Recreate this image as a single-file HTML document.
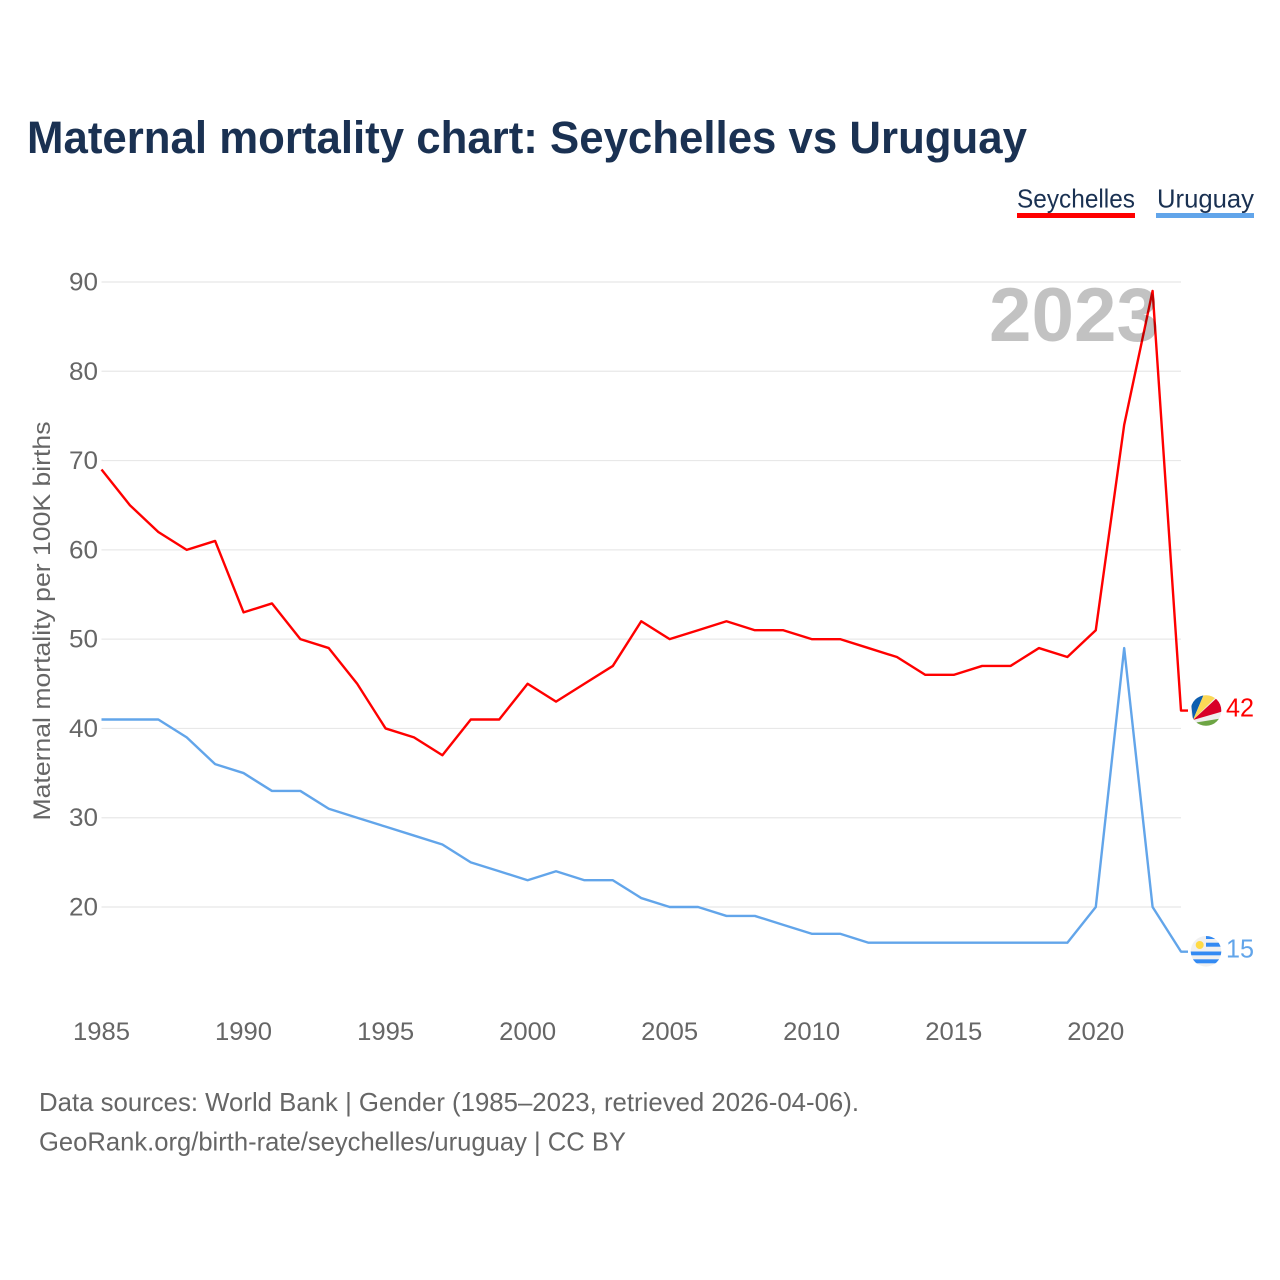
<!DOCTYPE html>
<html lang="en">
<head>
<meta charset="utf-8">
<title>Maternal mortality chart: Seychelles vs Uruguay</title>
<style>
html,body{margin:0;padding:0;background:#fff}
svg{display:block}
text{font-family:"Liberation Sans",sans-serif}
</style>
</head>
<body>
<svg id="chart" xmlns="http://www.w3.org/2000/svg" width="1280" height="1280" viewBox="0 0 1280 1280">
  <rect width="1280" height="1280" fill="#fff"/>
  <text x="27" y="153" font-size="45" font-weight="700" fill="#1a3152" textLength="1000" lengthAdjust="spacingAndGlyphs">Maternal mortality chart: Seychelles vs Uruguay</text>
  <g id="grid"></g>
  <g id="yticks"></g>
  <g id="xticks"></g>
  <text transform="translate(50,621) rotate(-90)" text-anchor="middle" font-size="24" fill="#666" textLength="399" lengthAdjust="spacingAndGlyphs">Maternal mortality per 100K births</text>
  <g id="series"></g>
  <text x="1159" y="341" text-anchor="end" font-size="76" font-weight="700" fill="#000" fill-opacity="0.24" textLength="170" lengthAdjust="spacingAndGlyphs">2023</text>

  <g>
    <text x="1017" y="207.5" font-size="26" fill="#1a3152" textLength="118" lengthAdjust="spacingAndGlyphs">Seychelles</text>
    <rect x="1017" y="213" width="118" height="5" fill="#ff0000"/>
  </g>
  <g>
    <text x="1157" y="207.5" font-size="26" fill="#1a3152" textLength="97" lengthAdjust="spacingAndGlyphs">Uruguay</text>
    <rect x="1156" y="213" width="98" height="5" fill="#62a5ea"/>
  </g>

  <defs>
    <clipPath id="flag-clip-sc"><circle cx="1206" cy="710.5" r="15.3"/></clipPath>
    <clipPath id="flag-clip-uy"><circle cx="1206" cy="951.3" r="15.3"/></clipPath>
  </defs>
  <g clip-path="url(#flag-clip-sc)">
    <rect x="1190" y="694" width="32" height="34" fill="#eeeeee"/>
    <polygon points="1193,720 1190,694 1204,694" fill="#0d5eaf"/>
    <polygon points="1193,720 1204,694 1219,694" fill="#fcd856"/>
    <polygon points="1193,720 1219,696 1224,706 1224,711" fill="#d80027"/>
    <polygon points="1193,723 1224,718 1224,728 1190,728" fill="#6da544"/>
  </g>
  <g clip-path="url(#flag-clip-uy)">
    <rect x="1190" y="935" width="32" height="33" fill="#f0f0f0"/>
    <rect x="1206" y="935" width="16" height="4" fill="#338af3"/>
    <rect x="1206" y="942.7" width="16" height="4" fill="#338af3"/>
    <rect x="1190" y="951.5" width="32" height="3.8" fill="#338af3"/>
    <rect x="1190" y="959.3" width="32" height="4" fill="#338af3"/>
    <circle cx="1199.7" cy="945" r="4" fill="#ffda44"/>
  </g>
  <text x="1226" y="716.5" font-size="26" fill="#ff0000" textLength="28" lengthAdjust="spacingAndGlyphs">42</text>
  <text x="1226" y="957.5" font-size="26" fill="#62a5ea" textLength="28" lengthAdjust="spacingAndGlyphs">15</text>

  <text x="39" y="1111" font-size="26" fill="#666" textLength="820" lengthAdjust="spacingAndGlyphs">Data sources: World Bank | Gender (1985–2023, retrieved 2026-04-06).</text>
  <text x="39" y="1150.5" font-size="26" fill="#666" textLength="587" lengthAdjust="spacingAndGlyphs">GeoRank.org/birth-rate/seychelles/uruguay | CC BY</text>
</svg>
<script>
var years = [1985,1986,1987,1988,1989,1990,1991,1992,1993,1994,1995,1996,1997,1998,1999,2000,2001,2002,2003,2004,2005,2006,2007,2008,2009,2010,2011,2012,2013,2014,2015,2016,2017,2018,2019,2020,2021,2022,2023];
var seychellesValues = [69,65,62,60,61,53,54,50,49,45,40,39,37,41,41,45,43,45,47,52,50,51,52,51,51,50,50,49,48,46,46,47,47,49,48,51,74,89,42];
var uruguayValues = [41,41,41,39,36,35,33,33,31,30,29,28,27,25,24,23,24,23,23,21,20,20,19,19,18,17,17,16,16,16,16,16,16,16,16,20,49,20,15];
var yTickValues = [20,30,40,50,60,70,80,90];
var xTickValues = [1985,1990,1995,2000,2005,2010,2015,2020];

var NS = 'http://www.w3.org/2000/svg';
function xScale(year){ return 101.5 + (year - 1985) * (1181 - 101.5) / 38; }
function yScale(v){ return 282 + (90 - v) * (907 - 282) / 70; }
function make(tag, attrs, parent){
  var el = document.createElementNS(NS, tag);
  for (var k in attrs) el.setAttribute(k, attrs[k]);
  parent.appendChild(el);
  return el;
}
var grid = document.getElementById('grid');
var yticks = document.getElementById('yticks');
var xticks = document.getElementById('xticks');
var seriesGroup = document.getElementById('series');

yTickValues.forEach(function(v){
  var line = make('line', {x1:101.5, x2:1181, y1:yScale(v), y2:yScale(v), stroke:'#e8e8e8', 'stroke-width':1.2}, grid);
  
  
  var t = make('text', {x:98, y:yScale(v) + 8.5, 'text-anchor':'end', 'font-size':25, fill:'#666', textLength:29, lengthAdjust:'spacingAndGlyphs'}, yticks);
  t.textContent = v;
  
  
});
xTickValues.forEach(function(y){
  var t = make('text', {x:xScale(y), y:1040, 'text-anchor':'middle', 'font-size':25, fill:'#666', textLength:57, lengthAdjust:'spacingAndGlyphs'}, xticks);
  t.textContent = y;
  
  
});
function drawSeries(values, color, name){
  var pts = values.map(function(v, i){ return xScale(years[i]).toFixed(2) + ',' + yScale(v).toFixed(2); });
  var last = values[values.length - 1];
  pts.push((xScale(years[years.length - 1]) + 7) + ',' + yScale(last).toFixed(2));
  var line = make('polyline', {points:pts.join(' '), fill:'none', stroke:color, 'stroke-width':2.4, 'stroke-linejoin':'round'}, seriesGroup);
  
  
}
drawSeries(uruguayValues, '#62a5ea', 'uruguay');
drawSeries(seychellesValues, '#ff0000', 'seychelles');
</script>
</body>
</html>
